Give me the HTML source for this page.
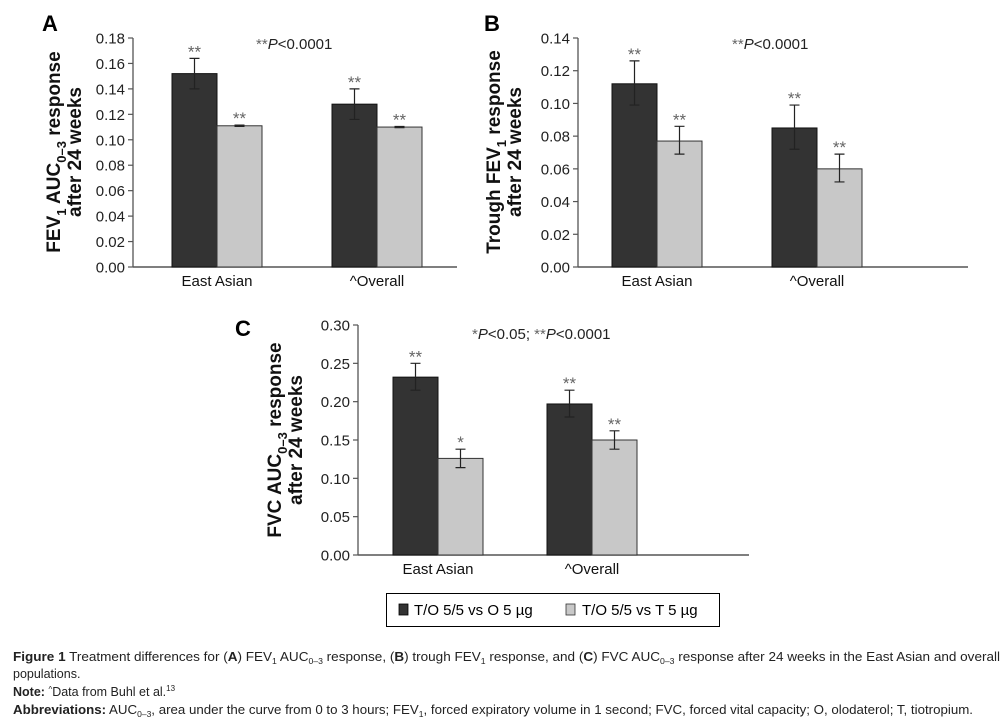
<!DOCTYPE html>
<html><head><meta charset="utf-8"><style>
html,body{margin:0;padding:0;background:#fff;}
svg{display:block;font-family:"Liberation Sans",Arial,sans-serif;}
</style></head><body>
<svg id="fig" width="1006" height="725" viewBox="0 0 1006 725">
<g id="charts"></g>
<g>
<rect x="386.5" y="593.5" width="333" height="33" fill="#fff" stroke="#000" stroke-width="1"/>
<rect x="399" y="604" width="9" height="11" fill="#333" stroke="#000" stroke-width="0.8"/>
<text x="414" y="615" font-size="15">T/O 5/5 vs O 5 µg</text>
<rect x="566" y="604" width="9" height="11" fill="#c8c8c8" stroke="#333" stroke-width="0.8"/>
<text x="582" y="615" font-size="15">T/O 5/5 vs T 5 µg</text>
</g>
<g font-size="12.5" fill="#222">
<text x="13" y="661" textLength="987" lengthAdjust="spacingAndGlyphs"><tspan font-weight="bold">Figure 1</tspan> Treatment differences for (<tspan font-weight="bold">A</tspan>) FEV<tspan font-size="8" dy="3">1</tspan><tspan dy="-3"> AUC</tspan><tspan font-size="8" dy="3">0–3</tspan><tspan dy="-3"> response, (</tspan><tspan font-weight="bold">B</tspan>) trough FEV<tspan font-size="8" dy="3">1</tspan><tspan dy="-3"> response, and (</tspan><tspan font-weight="bold">C</tspan>) FVC AUC<tspan font-size="8" dy="3">0–3</tspan><tspan dy="-3"> response after 24 weeks in the East Asian and overall</tspan></text>
<text x="13" y="678">populations.</text>
<text x="13" y="696"><tspan font-weight="bold">Note:</tspan> <tspan font-size="8" dy="-4">^</tspan><tspan dy="4">Data from Buhl et al.</tspan><tspan font-size="8" dy="-5">13</tspan></text>
<text x="13" y="714" textLength="960" lengthAdjust="spacingAndGlyphs"><tspan font-weight="bold">Abbreviations:</tspan> AUC<tspan font-size="8" dy="3">0–3</tspan><tspan dy="-3">, area under the curve from 0 to 3 hours; FEV</tspan><tspan font-size="8" dy="3">1</tspan><tspan dy="-3">, forced expiratory volume in 1 second; FVC, forced vital capacity; O, olodaterol; T, tiotropium.</tspan></text>
</g>
</svg>
<script>
const categories = ["East Asian", "^Overall"];
const aDark = [0.152, 0.128], aDarkLo = [0.140, 0.116], aDarkHi = [0.164, 0.140];
const aLight = [0.111, 0.110], aLightLo = [0.1105, 0.1095], aLightHi = [0.1115, 0.1105];
const aSig = [["**","**"],["**","**"]];
const bDark = [0.112, 0.085], bDarkLo = [0.099, 0.072], bDarkHi = [0.126, 0.099];
const bLight = [0.077, 0.060], bLightLo = [0.069, 0.052], bLightHi = [0.086, 0.069];
const bSig = [["**","**"],["**","**"]];
const cDark = [0.232, 0.197], cDarkLo = [0.215, 0.180], cDarkHi = [0.250, 0.215];
const cLight = [0.126, 0.150], cLightLo = [0.114, 0.138], cLightHi = [0.138, 0.162];
const cSig = [["**","**"],["*","**"]];
const aTicks = ["0.00","0.02","0.04","0.06","0.08","0.10","0.12","0.14","0.16","0.18"];
const bTicks = ["0.00","0.02","0.04","0.06","0.08","0.10","0.12","0.14"];
const cTicks = ["0.00","0.05","0.10","0.15","0.20","0.25","0.30"];

const NS="http://www.w3.org/2000/svg";
const root=document.getElementById('charts');
function mk(tag,attrs,parent,txt){const e=document.createElementNS(NS,tag);for(const k in attrs)e.setAttribute(k,attrs[k]);if(txt!==undefined)e.textContent=txt;(parent||root).appendChild(e);return e;}

function panel(cfg){
  const g=mk('g',{});
  
  
  const ticks=cfg.ticks, max=parseFloat(ticks[ticks.length-1]);
  const y=v=>cfg.y0-(v/max)*(cfg.y0-cfg.y1);
  const ax=mk('line',{x1:cfg.ax,x2:cfg.ax,y1:cfg.y1,y2:cfg.y0,stroke:'#555','stroke-width':1.3},g);
  
  
  ticks.forEach(t=>{const v=parseFloat(t);const yy=y(v);
    mk('line',{x1:cfg.ax-5,x2:cfg.ax,y1:yy,y2:yy,stroke:'#555','stroke-width':1.2},g);
    const tl=mk('text',{x:cfg.ax-8,y:yy+5.5,'font-size':15,'text-anchor':'end',fill:'#222'},g,t);
    
    
  });
  const xa=mk('line',{x1:cfg.ax,x2:cfg.xend,y1:cfg.y0,y2:cfg.y0,stroke:'#555','stroke-width':1.5},g);
  
  
  const bw=45;
  categories.forEach((c,i)=>{
    const gx=cfg.gx[i];
    [[cfg.dark,cfg.dLo,cfg.dHi,'#333','#111',0],[cfg.light,cfg.lLo,cfg.lHi,'#c8c8c8','#333',1]].forEach(s=>{
      const x=gx+s[5]*bw, v=s[0][i];
      const r=mk('rect',{x:x,y:y(v),width:bw,height:cfg.y0-y(v),fill:s[3],stroke:s[4],'stroke-width':1},g);
      
      
      const cx=x+bw/2, lo=y(s[1][i]), hi=y(s[2][i]);
      mk('path',{d:`M${cx},${lo}V${hi}M${cx-5},${lo}H${cx+5}M${cx-5},${hi}H${cx+5}`,stroke:'#222','stroke-width':1.2,fill:'none'},g);
      const st=mk('text',{x:cx,y:hi-1,'font-size':17,'text-anchor':'middle',fill:'#666'},g,cfg.sig[s[5]][i]);
      
      
    });
    const cl=mk('text',{x:gx+bw,y:cfg.y0+19,'font-size':15,'text-anchor':'middle',fill:'#111'},g,c);
    
    
  });
  const pl=mk('text',{x:cfg.px,y:cfg.py,'font-size':15,fill:'#222'},g);
  pl.innerHTML=cfg.pnote;
  
  
  const lt=mk('text',{x:cfg.lx,y:cfg.ly,'font-size':22,'font-weight':'bold'},g,cfg.id.toUpperCase());
  
  
  const ty=mk('text',{transform:`translate(${cfg.tx},${cfg.tcy}) rotate(-90)`,'font-size':19,'font-weight':'bold','text-anchor':'middle',fill:'#111'},g);
  ty.innerHTML=cfg.title1;
  
  
  const ty2=mk('text',{transform:`translate(${cfg.tx+21},${cfg.tcy2}) rotate(-90)`,'font-size':19,'font-weight':'bold','text-anchor':'middle',fill:'#111'},g,'after 24 weeks');
  
  
}
const sub=t=>`<tspan font-size="13" dy="6">${t}</tspan><tspan dy="-6">`;
panel({id:'a',ticks:aTicks,ax:133,y0:267,y1:38,xend:457,gx:[172,332],dark:aDark,dLo:aDarkLo,dHi:aDarkHi,light:aLight,lLo:aLightLo,lHi:aLightHi,sig:aSig,
  px:256,py:49,pnote:'<tspan fill="#666">**</tspan><tspan font-style="italic">P</tspan>&lt;0.0001',lx:42,ly:31,
  tx:60,tcy:152,title1:'FEV'+sub('1')+' AUC</tspan>'+sub('0–3')+' response</tspan>',tcy2:152});
panel({id:'b',ticks:bTicks,ax:578,y0:267,y1:38,xend:968,gx:[612,772],dark:bDark,dLo:bDarkLo,dHi:bDarkHi,light:bLight,lLo:bLightLo,lHi:bLightHi,sig:bSig,
  px:732,py:49,pnote:'<tspan fill="#666">**</tspan><tspan font-style="italic">P</tspan>&lt;0.0001',lx:484,ly:31,
  tx:500,tcy:152,title1:'Trough FEV'+sub('1')+' response</tspan>',tcy2:152});
panel({id:'c',ticks:cTicks,ax:358,y0:555,y1:325,xend:749,gx:[393,547],dark:cDark,dLo:cDarkLo,dHi:cDarkHi,light:cLight,lLo:cLightLo,lHi:cLightHi,sig:cSig,
  px:472,py:339,pnote:'<tspan fill="#666">*</tspan><tspan font-style="italic">P</tspan>&lt;0.05; <tspan fill="#666">**</tspan><tspan font-style="italic">P</tspan>&lt;0.0001',lx:235,ly:336,
  tx:281,tcy:440,title1:'FVC AUC'+sub('0–3')+' response</tspan>',tcy2:440});
</script>
</body></html>
